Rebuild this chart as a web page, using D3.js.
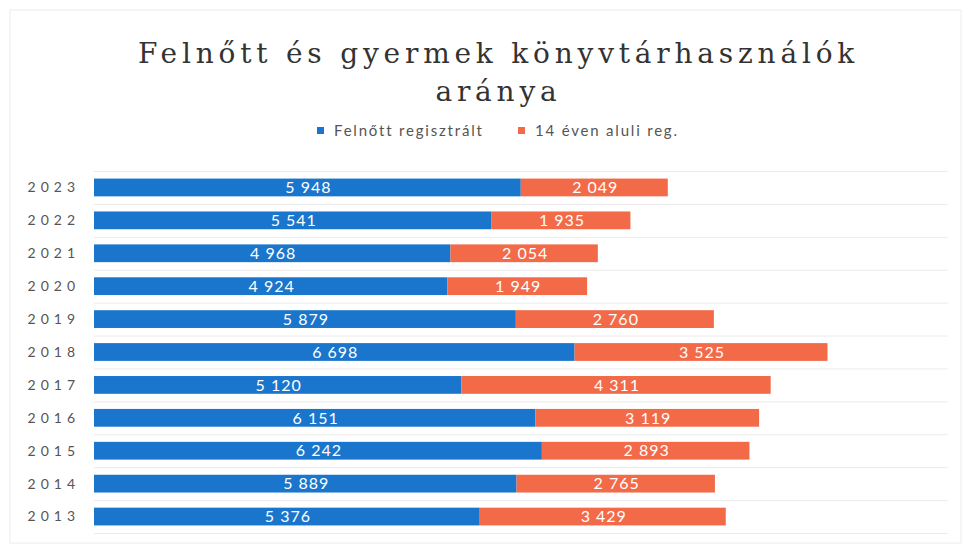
<!DOCTYPE html>
<html>
<head>
<meta charset="utf-8">
<script src="https://cdn.jsdelivr.net/npm/d3@7"></script>
<style>
  body { margin: 0; background: #fff; }
</style>
</head>
<body>
<div id="chart"></div>
<script>
// Data
const years = ["2023", "2022", "2021", "2020", "2019", "2018", "2017", "2016", "2015", "2014", "2013"];
const adults = [5948, 5541, 4968, 4924, 5879, 6698, 5120, 6151, 6242, 5889, 5376];
const children = [2049, 1935, 2054, 1949, 2760, 3525, 4311, 3119, 2893, 2765, 3429];
const seriesNames = ["Felnőtt regisztrált", "14 éven aluli reg."];
const colors = ["#1a76cc", "#f26a48"];

const width = 971, height = 547;
const margin = { top: 171, right: 16, bottom: 14, left: 94 };

const huLocale = d3.formatLocale({ decimal: ",", thousands: "\u00a0", grouping: [3], currency: ["", " Ft"] });
const fmt = huLocale.format(",d");

const rows = years.map((y, i) => ({ year: y, adult: adults[i], child: children[i] }));

const svg = d3.select("#chart").append("svg")
  .attr("width", width)
  .attr("height", height);

// faint frame from the scan
svg.append("rect")
  .attr("x", 10).attr("y", 10)
  .attr("width", width - 20).attr("height", height - 14)
  .attr("fill", "none")
  .attr("stroke", "#ececec");

const x = d3.scaleLinear().domain([0, 12000]).range([margin.left, width - margin.right]);
const y = d3.scaleBand().domain(years).range([margin.top, height - margin.bottom]).paddingInner(0.46).paddingOuter(0.23);

// Title
const title = svg.append("text")
  .attr("text-anchor", "middle")
  .style("font-family", "'DejaVu Serif', 'Liberation Serif', serif")
  .style("font-size", "28px")
  .style("letter-spacing", "4.8px")
  .style("fill", "#333");
title.append("tspan").attr("x", width / 2 + 13).attr("y", 63).text("Felnőtt és gyermek könyvtárhasználók");
title.append("tspan").attr("x", width / 2 + 13).attr("y", 101).text("aránya");

// Legend
const legend = svg.append("g").attr("transform", "translate(317,131)");
const legItems = [{ name: seriesNames[0], x: 0 }, { name: seriesNames[1], x: 201 }];
legItems.forEach((d, i) => {
  legend.append("rect")
    .attr("x", d.x).attr("y", -4)
    .attr("width", 7).attr("height", 7)
    .attr("fill", colors[i]);
  legend.append("text")
    .attr("x", d.x + 17).attr("y", 0)
    .attr("dy", "0.35em")
    .style("font-family", "Lato, 'Open Sans', sans-serif")
    .style("font-size", "15px")
    .style("letter-spacing", "1.8px")
    .style("fill", "#555")
    .text(d.name);
});

// Gridlines between rows
const step = y.step();
const top0 = y(years[0]) - step * y.paddingOuter();
svg.append("g")
  .selectAll("line")
  .data(d3.range(years.length + 1))
  .enter()
  .append("line")
  .attr("x1", x(0))
  .attr("x2", x(11900))
  .attr("y1", i => top0 + i * step + 0.5)
  .attr("y2", i => top0 + i * step + 0.5)
  .attr("stroke", "#ebebeb")
  .attr("stroke-width", 1);

// Year labels
svg.append("g")
  .selectAll("text")
  .data(rows)
  .enter()
  .append("text")
  .attr("x", 80)
  .attr("y", d => y(d.year) + y.bandwidth() / 2)
  .attr("dy", "0.35em")
  .attr("text-anchor", "end")
  .style("font-family", "Lato, 'Open Sans', sans-serif")
  .style("font-size", "14px")
  .style("letter-spacing", "5px")
  .style("fill", "#555")
  .text(d => d.year);

// Bars
const stack = d3.stack().keys(["adult", "child"])(rows);
const layers = svg.append("g")
  .selectAll("g")
  .data(stack)
  .enter()
  .append("g")
  .attr("fill", (d, i) => colors[i]);

layers.selectAll("rect")
  .data(d => d)
  .enter()
  .append("rect")
  .attr("x", d => x(d[0]))
  .attr("y", d => y(d.data.year))
  .attr("width", d => x(d[1]) - x(d[0]))
  .attr("height", y.bandwidth());

// Value labels
layers.selectAll("text")
  .data(d => d)
  .enter()
  .append("text")
  .attr("x", d => (x(d[0]) + x(d[1])) / 2 + 1)
  .attr("y", d => y(d.data.year) + y.bandwidth() / 2)
  .attr("dy", "0.36em")
  .attr("text-anchor", "middle")
  .style("font-family", "Lato, 'Open Sans', sans-serif")
  .style("font-size", "16px")
  .style("letter-spacing", "1px")
  .style("fill", "#fff")
  .text(d => fmt(d[1] - d[0]));
</script>
</body>
</html>
